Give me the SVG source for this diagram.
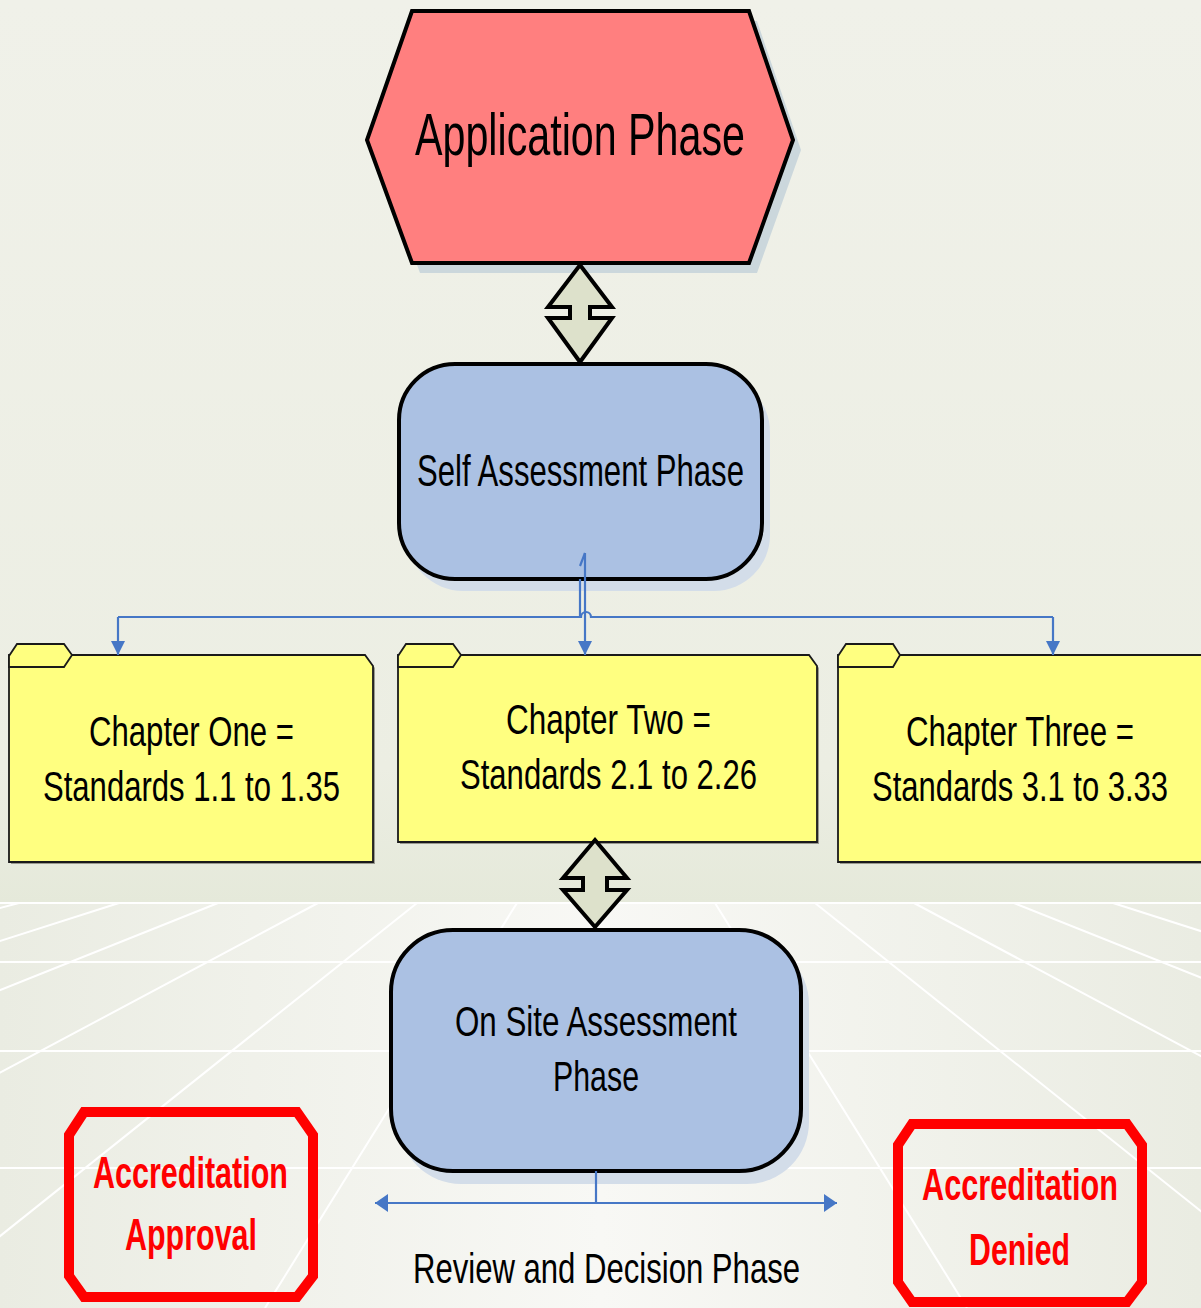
<svg xmlns="http://www.w3.org/2000/svg" width="1201" height="1308" viewBox="0 0 1201 1308">
<defs>
<linearGradient id="sky" x1="0" y1="0" x2="0" y2="1">
<stop offset="0" stop-color="#f0f1e9"/>
<stop offset="0.85" stop-color="#eceee3"/>
<stop offset="1" stop-color="#e5e9da"/>
</linearGradient>
<linearGradient id="floor" x1="0" y1="0" x2="1" y2="0">
<stop offset="0" stop-color="#eaece2"/>
<stop offset="0.5" stop-color="#f8f8f5"/>
<stop offset="1" stop-color="#eaece2"/>
</linearGradient>
<marker id="ah" markerUnits="userSpaceOnUse" markerWidth="14" markerHeight="16" refX="14" refY="7" orient="auto">
<path d="M0,0 L14,7 L0,14 Z" fill="#4677c6"/>
</marker>
<marker id="ahb" markerUnits="userSpaceOnUse" markerWidth="14" markerHeight="20" refX="13" refY="9" orient="auto">
<path d="M0,0 L13,9 L0,18 Z" fill="#4677c6"/>
</marker>
<marker id="ahbs" markerUnits="userSpaceOnUse" markerWidth="14" markerHeight="20" refX="0" refY="9" orient="auto">
<path d="M13,0 L0,9 L13,18 Z" fill="#4677c6"/>
</marker>
</defs>
<style>
.txt{font-family:"Liberation Sans Narrow","Liberation Sans",Arial,sans-serif;fill:#000}
.red{font-family:"Liberation Sans Narrow","Liberation Sans",Arial,sans-serif;fill:#ff0000;font-weight:bold}
.grid{stroke:#ffffff;stroke-width:2;fill:none}
.dbl{fill:#dde1cb;stroke:#000;stroke-width:4;stroke-linejoin:miter}
.folder{fill:#ffff80;stroke:#1a1a1a;stroke-width:1.8}
.fshadow{fill:#9a9a90}
.blue{fill:#abc1e3;stroke:#000;stroke-width:4}
.oct{fill:none;stroke:#ff0000;stroke-width:10;stroke-linejoin:miter}
.conn{stroke:#4677c6;stroke-width:2.2;fill:none}
</style>
<g id="background">
<rect x="0" y="0" width="1201" height="903" fill="url(#sky)"/>
<rect x="0" y="903" width="1201" height="405" fill="url(#floor)"/>
<g class="grid">
<line x1="0" y1="903" x2="1201" y2="903"/>
<line x1="0" y1="962" x2="1201" y2="962"/>
<line x1="0" y1="1051" x2="1201" y2="1051"/>
<line x1="0" y1="1168" x2="1201" y2="1168"/>
<line x1="19" y1="903" x2="-1502" y2="1308"/>
<line x1="119" y1="903" x2="-1147" y2="1308"/>
<line x1="218" y1="903" x2="-796" y2="1308"/>
<line x1="318" y1="903" x2="-441" y2="1308"/>
<line x1="417" y1="903" x2="-90" y2="1308"/>
<line x1="517" y1="903" x2="265" y2="1308"/>
<line x1="715" y1="903" x2="967" y2="1308"/>
<line x1="815" y1="903" x2="1322" y2="1308"/>
<line x1="914" y1="903" x2="1673" y2="1308"/>
<line x1="1014" y1="903" x2="2028" y2="1308"/>
<line x1="1113" y1="903" x2="2379" y2="1308"/>
</g>
</g>
<g id="application-phase">
<polygon points="420,21 757,21 801,150 757,273 420,273 375,150" fill="#cbd7dc"/>
<polygon points="412,11 749,11 793,140 749,263 412,263 367,140" fill="#ff7f7f" stroke="#000" stroke-width="4"/>
<text class="txt" x="415" y="155" font-size="60" textLength="330" lengthAdjust="spacingAndGlyphs">Application Phase</text>
</g>
<g id="arrow-top">
<path class="dbl" d="M580,265 L612,307 L590,307 L590,318 L612,318 L580,362 L548,318 L570,318 L570,307 L548,307 Z"/>
</g>
<g id="self-assessment">
<rect x="407" y="376" width="363" height="215" rx="56" ry="56" fill="#d3dde9"/>
<rect class="blue" x="399" y="364" width="363" height="215" rx="56" ry="56"/>
<text class="txt" x="417" y="486" font-size="44" textLength="327" lengthAdjust="spacingAndGlyphs">Self Assessment Phase</text>
</g>
<g id="chapter-one">
<path class="fshadow" d="M11,657 H367 L375,668 V864 H11 Z"/>
<path class="folder" d="M9,655 H365 L373,666 V862 H9 Z"/>
<path class="folder" d="M9,656 L17,644 H64 L72,655 L64,667 H9 Z"/>
<text class="txt" x="89" y="746" font-size="42" textLength="205" lengthAdjust="spacingAndGlyphs">Chapter One =</text>
<text class="txt" x="43" y="801" font-size="42" textLength="297" lengthAdjust="spacingAndGlyphs">Standards 1.1 to 1.35</text>
</g>
<g id="chapter-two">
<path class="fshadow" d="M400,657 H811 L819,668 V844 H400 Z"/>
<path class="folder" d="M398,655 H809 L817,666 V842 H398 Z"/>
<path class="folder" d="M398,656 L406,644 H453 L461,655 L453,667 H398 Z"/>
<text class="txt" x="506" y="734" font-size="42" textLength="205" lengthAdjust="spacingAndGlyphs">Chapter Two =</text>
<text class="txt" x="460" y="789" font-size="42" textLength="297" lengthAdjust="spacingAndGlyphs">Standards 2.1 to 2.26</text>
</g>
<g id="chapter-three">
<path class="fshadow" d="M840,657 H1203 V864 H840 Z"/>
<path class="folder" d="M838,655 H1203 V862 H838 Z"/>
<path class="folder" d="M838,656 L846,644 H893 L900,655 L893,667 H838 Z"/>
<text class="txt" x="906" y="746" font-size="42" textLength="228" lengthAdjust="spacingAndGlyphs">Chapter Three =</text>
<text class="txt" x="872" y="801" font-size="42" textLength="296" lengthAdjust="spacingAndGlyphs">Standards 3.1 to 3.33</text>
</g>
<g id="arrow-bottom">
<path class="dbl" d="M595,840 L627,878 L607,878 L607,890 L627,890 L595,927 L563,890 L583,890 L583,878 L563,878 Z"/>
</g>
<g id="on-site-assessment">
<rect x="399" y="942" width="410" height="242" rx="62" ry="62" fill="#d3dde9"/>
<rect class="blue" x="391" y="930" width="410" height="241" rx="62" ry="62"/>
<text class="txt" x="455" y="1036" font-size="42" textLength="282" lengthAdjust="spacingAndGlyphs">On Site Assessment</text>
<text class="txt" x="553" y="1091" font-size="42" textLength="86" lengthAdjust="spacingAndGlyphs">Phase</text>
</g>
<g id="review-decision">
<text class="txt" x="413" y="1283" font-size="42" textLength="387" lengthAdjust="spacingAndGlyphs">Review and Decision Phase</text>
</g>
<g id="accreditation-approval">
<polygon class="oct" points="84,1112 297,1112 313,1135 313,1276 297,1297 84,1297 69,1276 69,1135"/>
<text class="red" x="93" y="1188" font-size="45" textLength="195" lengthAdjust="spacingAndGlyphs">Accreditation</text>
<text class="red" x="125" y="1250" font-size="45" textLength="132" lengthAdjust="spacingAndGlyphs">Approval</text>
</g>
<g id="accreditation-denied">
<polygon class="oct" points="912,1124 1127,1124 1142,1145 1142,1282 1127,1302 912,1302 898,1282 898,1145"/>
<text class="red" x="922" y="1200" font-size="45" textLength="196" lengthAdjust="spacingAndGlyphs">Accreditation</text>
<text class="red" x="969" y="1265" font-size="45" textLength="101" lengthAdjust="spacingAndGlyphs">Denied</text>
</g>
<g id="connectors">
<path class="conn" d="M118,617 H581 A5,5 0 0 1 591,617 H1053"/>
<line class="conn" x1="118" y1="617" x2="118" y2="655" marker-end="url(#ah)"/>
<line class="conn" x1="1053" y1="617" x2="1053" y2="655" marker-end="url(#ah)"/>
<line class="conn" x1="580" y1="579" x2="580" y2="617"/>
<line class="conn" x1="585" y1="553" x2="585" y2="655" marker-end="url(#ah)"/>
<line class="conn" x1="580" y1="566" x2="585" y2="553"/>
<line class="conn" x1="596" y1="1171" x2="596" y2="1203"/>
<line class="conn" x1="375" y1="1203" x2="837" y2="1203" marker-start="url(#ahbs)" marker-end="url(#ahb)"/>
</g>
</svg>
